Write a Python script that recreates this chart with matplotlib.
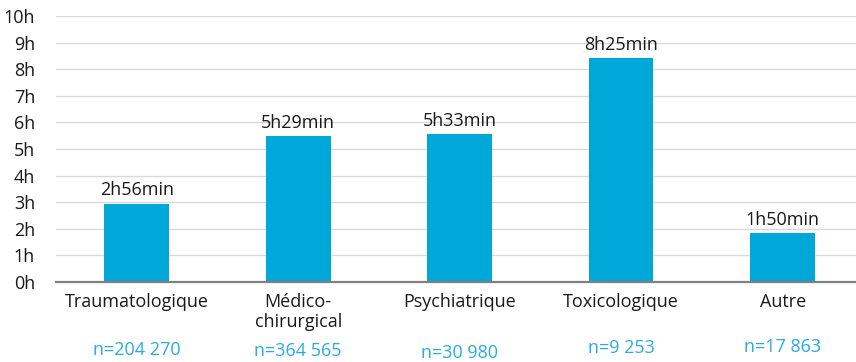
import numpy as np
import matplotlib.pyplot as plt

categories = ['Traumatologique', 'Médico-\nchirurgical', 'Psychiatrique', 'Toxicologique', 'Autre']
hours = [2, 5, 5, 8, 1]
minutes = [56, 29, 33, 25, 50]
n_labels = ['n=204 270', 'n=364 565', 'n=30 980', 'n=9 253', 'n=17 863']
n_offsets = [-0.256, -0.260, -0.266, -0.250, -0.244]
y_ticks = list(range(0, 11))

durations = [h + m / 60 for h, m in zip(hours, minutes)]
value_labels = [f'{h}h{m:02d}min' for h, m in zip(hours, minutes)]

plt.rcParams['font.family'] = ['Open Sans', 'DejaVu Sans']
fs = 13

fig = plt.figure(figsize=(8.56, 3.62), dpi=100)
ax = fig.add_axes([0.0654, 0.221, 0.9346, 0.7348])

x = np.arange(len(categories))
bars = ax.bar(x, durations, width=0.40, color='#00A8DA', zorder=3)

for xi, val, lab in zip(x, durations, value_labels):
    ax.text(xi, val + 0.17, lab, ha='center', va='bottom', fontsize=fs, color='#1a1a1a')

# sample sizes under each category
for xi, lab, off in zip(x, n_labels, n_offsets):
    ax.text(xi, off, lab, transform=ax.get_xaxis_transform(), ha='center', va='center',
            fontsize=fs, color='#2AACE2')

ax.set_xlim(-0.5, 4.454)
ax.set_ylim(0, 10)
ax.set_yticks(y_ticks)
ax.set_yticklabels([f'{t}h' for t in y_ticks])
ax.set_xticks(x)
ax.set_xticklabels(categories, linespacing=1.15)
ax.tick_params(axis='both', length=0, labelsize=fs, colors='#1a1a1a')
ax.tick_params(axis='y', pad=15)
ax.tick_params(axis='x', pad=8)

ax.grid(axis='y', color='#d9d9d9', linewidth=1.0, zorder=0)
for side in ['top', 'right', 'left']:
    ax.spines[side].set_visible(False)
ax.spines['bottom'].set_color('#808080')
ax.spines['bottom'].set_linewidth(1.6)
ax.spines['bottom'].set_zorder(4)

fig.savefig('out.png', dpi=100)
